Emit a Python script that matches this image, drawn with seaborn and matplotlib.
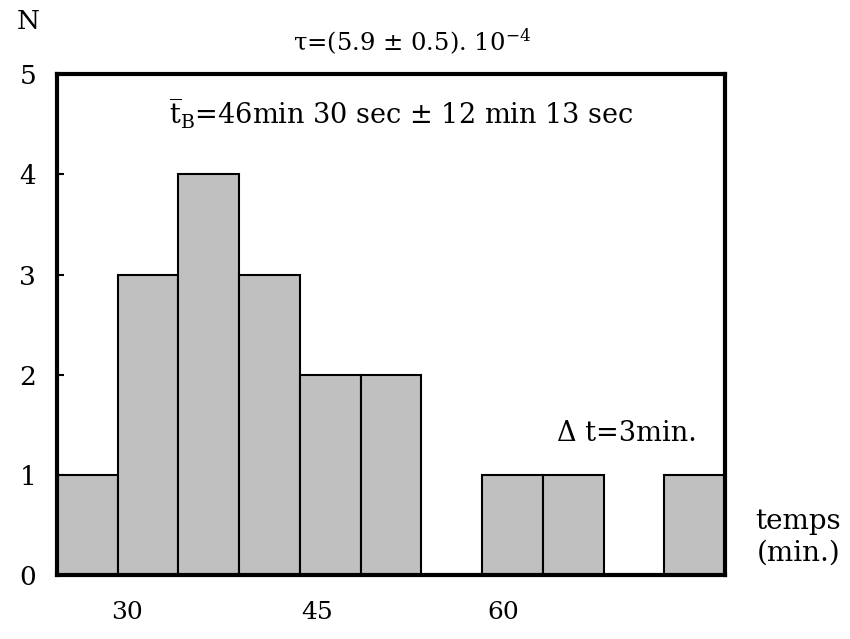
import numpy as np
import matplotlib
matplotlib.use("Agg")
import matplotlib.pyplot as plt
import seaborn as sns

# histogram counts per bin (bin edges in minutes)
bin_edges = [25, 30, 35, 40, 45, 50, 55, 60, 65, 70, 75, 80]
counts = [1, 3, 4, 3, 2, 2, 0, 1, 1, 0, 1]
y_ticks = [0, 1, 2, 3, 4, 5]
x_tick_labels = ["30", "45", "60"]
x_tick_pos = [30.8, 46.4, 61.7]

sns.set_style("white")
plt.rcParams['font.family'] = ['DejaVu Serif']
plt.rcParams['mathtext.fontset'] = 'dejavuserif'
plt.rcParams['text.color'] = 'black'
plt.rcParams['xtick.color'] = 'black'
plt.rcParams['ytick.color'] = 'black'

centers = [(a + b) / 2 for a, b in zip(bin_edges[:-1], bin_edges[1:])]

fig = plt.figure(figsize=(8.5, 6.39), dpi=100)
ax = fig.add_axes([0.067, 0.100, 0.786, 0.784])
sns.histplot(x=centers, weights=counts, bins=bin_edges, color='#c0c0c0',
             edgecolor='black', linewidth=1.5, alpha=1, ax=ax)

ax.set_xlim(25, 80)
ax.set_ylim(0, 5)
ax.set_yticks(y_ticks)
ax.set_xticks(x_tick_pos)
ax.set_xticklabels(x_tick_labels)
ax.set_xlabel('')
ax.set_ylabel('')
ax.tick_params(axis='y', direction='in', length=5, width=1.5, pad=15, labelsize=19, left=True)
ax.tick_params(axis='x', length=0, pad=19, labelsize=18)
for s in ax.spines.values():
    s.set_linewidth(3)
    s.set_color('black')

fig.text(0.033, 0.967, 'N', fontsize=19, ha='center', va='center')
fig.text(0.485, 0.934, r'τ=(5.9 ± 0.5). 10$^{\mathregular{-4}}$', fontsize=17.5, ha='center', va='center')
ax.text(0.515, 0.922, r'$\overline{\mathregular{t}}_{\mathregular{B}}$=46min 30 sec ± 12 min 13 sec',
        transform=ax.transAxes, fontsize=19.5, ha='center', va='center')
ax.text(0.853, 0.283, 'Δ t=3min.', transform=ax.transAxes, fontsize=19.5, ha='center', va='center')
fig.text(0.939, 0.159, 'temps\n(min.)', fontsize=20, ha='center', va='center', linespacing=1.2)

fig.savefig('out.png', dpi=100)
